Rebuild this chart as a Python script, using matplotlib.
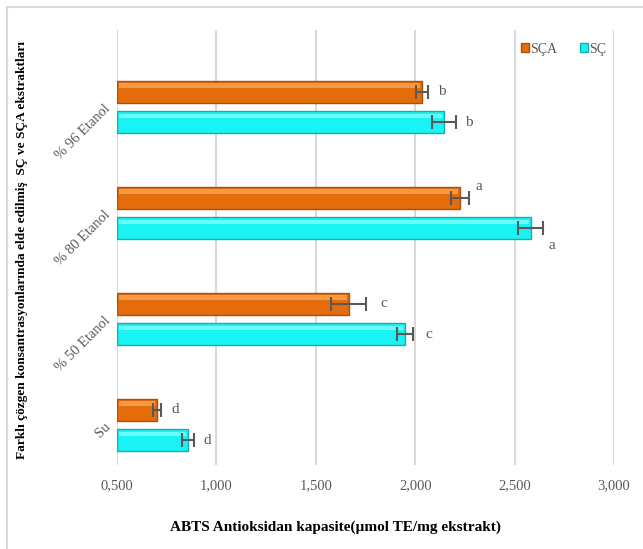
import numpy as np
import matplotlib.pyplot as plt
from matplotlib.lines import Line2D
from matplotlib.ticker import FuncFormatter

plt.rcParams['font.family'] = ['Liberation Serif', 'DejaVu Serif']

categories = ["Su", "% 50 Etanol", "% 80 Etanol", "% 96 Etanol"]
sca = [0.700, 1.665, 2.225, 2.035]
sca_err = [0.020, 0.090, 0.045, 0.030]
sc = [0.857, 1.950, 2.580, 2.145]
sc_err = [0.030, 0.040, 0.065, 0.060]
sca_letters = ["d", "c", "a", "b"]
sc_letters = ["d", "c", "a", "b"]
xticks = [0.5, 1.0, 1.5, 2.0, 2.5, 3.0]

W, H = 643, 549
fig = plt.figure(figsize=(W / 100, H / 100), dpi=100)
ax = fig.add_axes([117 / W, 1 - 465 / H, (614 - 117) / W, (465 - 30) / H])

y = np.arange(len(categories))
h = 0.2
off = 0.142
gray = "#595959"

ax.barh(y + off, [v - 0.5 for v in sca], left=0.5, height=h, color="#E46C0A",
        edgecolor="#A9520B", linewidth=1.0, label="SÇA", zorder=3)
ax.barh(y - off, [v - 0.5 for v in sc], left=0.5, height=h, color="#19F3F3",
        edgecolor="#1AADAD", linewidth=1.0, label="SÇ", zorder=3)
# light top strip to hint the bevelled look
ax.barh(y + off + h * 0.3, [v - 0.52 for v in sca], left=0.51, height=h * 0.2,
        color="#F39A48", linewidth=0, zorder=3)
ax.barh(y - off + h * 0.3, [v - 0.52 for v in sc], left=0.51, height=h * 0.2,
        color="#6AFBFB", linewidth=0, zorder=3)

ax.errorbar(sca, y + off, xerr=sca_err, fmt="none", ecolor=gray, elinewidth=1.5,
            capsize=5, capthick=1.5, zorder=4)
ax.errorbar(sc, y - off, xerr=sc_err, fmt="none", ecolor=gray, elinewidth=1.5,
            capsize=5, capthick=1.5, zorder=4)

sca_offsets = [(15, 0), (17, 0), (10, 11), (14, 0)]
sc_offsets = [(13, 0), (16, 0), (8, -17), (13, 0)]
for i in range(len(categories)):
    ax.annotate(sca_letters[i], (sca[i] + sca_err[i], y[i] + off), xytext=sca_offsets[i],
                textcoords="offset pixels", ha="center", va="center", fontsize=11, color=gray)
    ax.annotate(sc_letters[i], (sc[i] + sc_err[i], y[i] - off), xytext=sc_offsets[i],
                textcoords="offset pixels", ha="center", va="center", fontsize=11, color=gray)

ax.set_xlim(0.5, 3.0)
ax.set_ylim(-0.377, 3.726)
ax.set_xticks(xticks)
ax.xaxis.set_major_formatter(FuncFormatter(lambda v, p: f"{v:.3f}".replace(".", ",")))
ax.set_yticks(y)
ax.set_yticklabels(categories, rotation=45, ha="right", va="center", rotation_mode="anchor")
ax.tick_params(axis="both", length=0, labelsize=10.5, labelcolor=gray)
ax.tick_params(axis="x", pad=10)
ax.tick_params(axis="y", pad=6)
ax.grid(axis="x", color="#D9D9D9", linewidth=1.5, zorder=0)
for s in ax.spines.values():
    s.set_visible(False)

leg = ax.legend(loc="upper right", bbox_to_anchor=(1.01, 1.0), ncol=2, frameon=False,
                fontsize=10, handlelength=0.6, handleheight=0.6, handletextpad=0.1,
                columnspacing=1.6, labelcolor=gray)

fig.text(335 / W, 1 - 527 / H, "ABTS Antioksidan kapasite(µmol TE/mg ekstrakt)",
         ha="center", va="center", fontsize=11, fontweight="bold")
fig.text(22 / W, 1 - 250 / H,
         "Farklı çözgen konsantrasyonlarında elde edilmiş  SÇ ve SÇA ekstraktları",
         ha="center", va="center", rotation=90, fontsize=9.6, fontweight="bold")

fig.add_artist(Line2D([7 / W, 7 / W], [0, 1 - 7 / H], color="#D9D9D9", linewidth=1.5))
fig.add_artist(Line2D([7 / W, 1], [1 - 7 / H, 1 - 7 / H], color="#D9D9D9", linewidth=1.5))

fig.savefig("out.png", dpi=100)
